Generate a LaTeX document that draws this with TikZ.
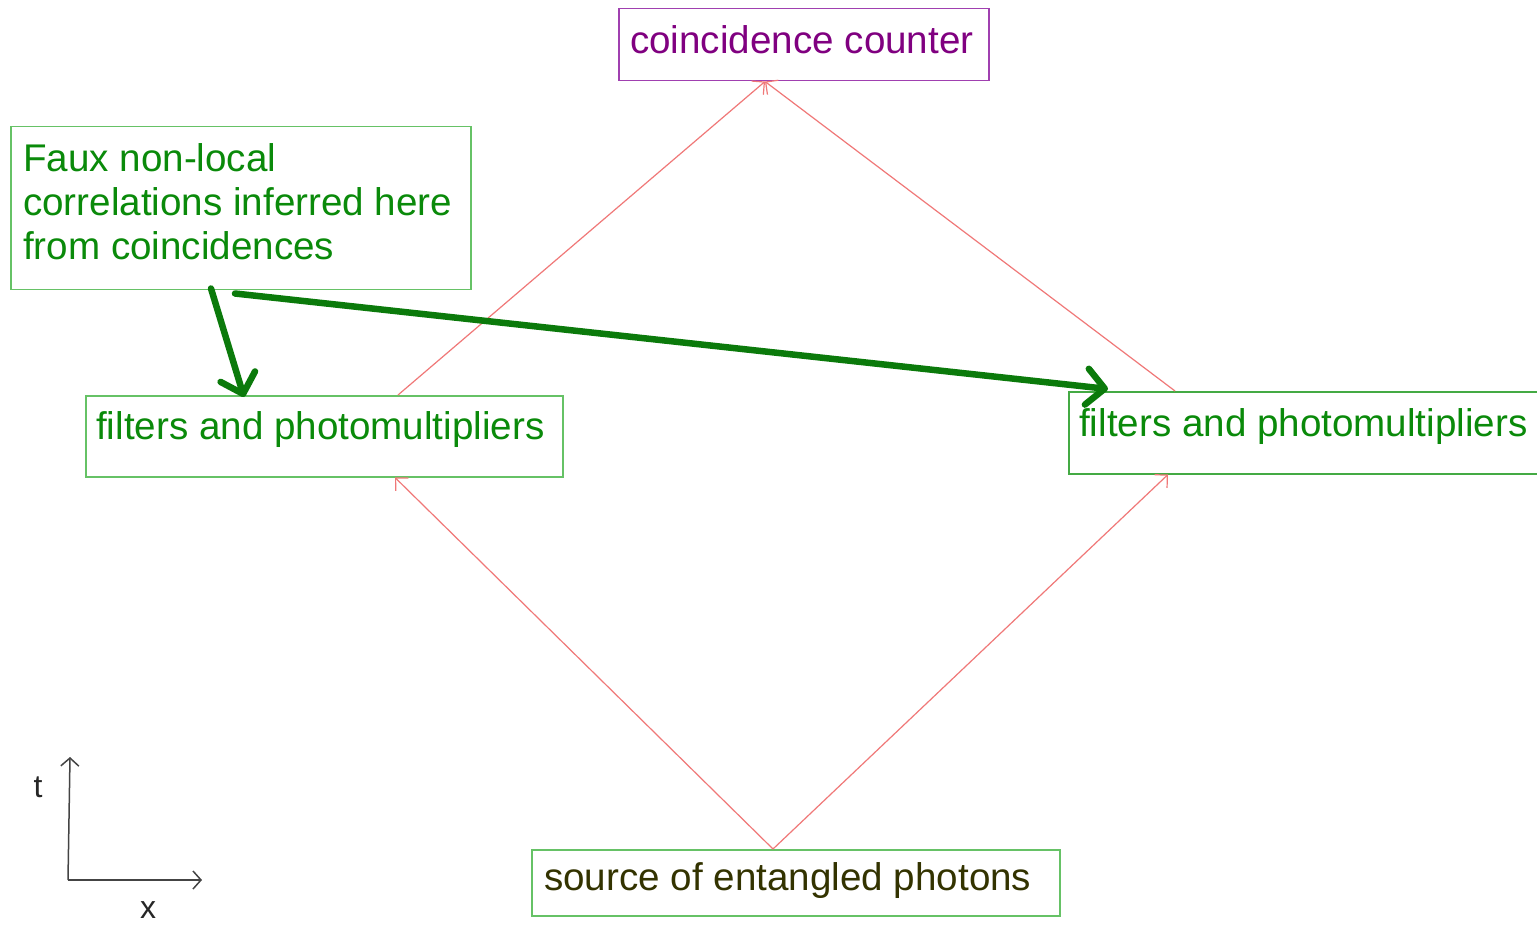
\documentclass[tikz,border=0pt]{standalone}
\usepackage{fontspec}
\setmainfont{Liberation Sans}
\usetikzlibrary{arrows.meta,calc}
\definecolor{purp}{HTML}{800080}
\definecolor{purpline}{HTML}{A040B0}
\definecolor{gtext}{HTML}{0A8A0A}
\definecolor{gline}{HTML}{66C266}
\definecolor{gline2}{HTML}{44AA44}
\definecolor{garrow}{HTML}{0B7A0B}
\definecolor{redl}{HTML}{F07878}
\definecolor{olive}{HTML}{333300}
\definecolor{axisc}{HTML}{444444}
\begin{document}
\begin{tikzpicture}[x=1pt,y=-1pt,
  box/.style={draw, line width=1.5pt, inner sep=0pt, anchor=north west},
  lbl/.style={anchor=base west, inner sep=0pt, font=\fontsize{38.6}{44}\selectfont},
  axlbl/.style={anchor=base, inner sep=0pt, text=black!85, font=\fontsize{32}{32}\selectfont},
  ray/.style={draw=redl, line width=1.2pt, -{Straight Barb[length=9pt,width=18pt]}},
  big/.style={draw=garrow, line width=6.5pt, line cap=round, -{Straight Barb[length=18pt,width=36pt,round]}},
  axisline/.style={draw=axisc, line width=1.5pt, -{Straight Barb[length=8pt,width=18pt]}}
  ]
\clip (0,0) rectangle (1537,925);
\fill[white] (0,0) rectangle (1537,925);

% boxes and texts
\node[box, draw=purpline, minimum width=370pt, minimum height=72pt] (cc) at (618,8) {};
\node[lbl, text=purp] (cct) at (630,54) {coincidence counter};

\node[box, draw=gline, minimum width=460pt, minimum height=163pt] (faux) at (10,126) {};
\node[lbl, text=gtext] (f1) at (23,172) {Faux non-local};
\node[lbl, text=gtext] (f2) at (23,216) {correlations inferred here};
\node[lbl, text=gtext] (f3) at (23,260) {from coincidences};

\node[box, draw=gline, minimum width=477pt, minimum height=81pt] (lf) at (85,395) {};
\node[lbl, text=gtext] (lft) at (96,439) {filters and photomultipliers};

\node[box, draw=gline2, minimum width=490pt, minimum height=82pt] (rf) at (1068,391) {};
\node[lbl, text=gtext] (rft) at (1079,436) {filters and photomultipliers};

\node[box, draw=gline, minimum width=528pt, minimum height=66pt] (src) at (531,849) {};
\node[lbl, text=olive] (srct) at (544,890) {source of entangled photons};

% red light rays
\draw[ray] ($(src.north west)+(242,0)$) -- ($(lf.south west)+(310,0)$);
\draw[ray] ($(src.north west)+(242,0)$) -- ($(rf.south west)+(100,0)$);
\draw[ray] ($(lf.north west)+(313,0)$) -- ($(cc.south west)+(147,0)$);
\draw[ray] ($(rf.north west)+(107,0)$) -- ($(cc.south west)+(147,0)$);

% green arrows
\draw[big] ($(faux.south west)+(201,-2)$) -- ($(lf.north west)+(159,2)$);
\draw[big] ($(faux.south west)+(225,3)$) -- ($(rf.north west)+(40,-2)$);

% axes
\coordinate (o) at (68,880);
\coordinate (tend) at (70,757);
\coordinate (xend) at (202,880);
\draw[axisline] (o) -- (tend);
\draw[axisline] (o) -- (xend);
\node[axlbl] (tl) at (38,797) {t};
\node[axlbl] (xl) at (148,918) {x};
\end{tikzpicture}
\end{document}
